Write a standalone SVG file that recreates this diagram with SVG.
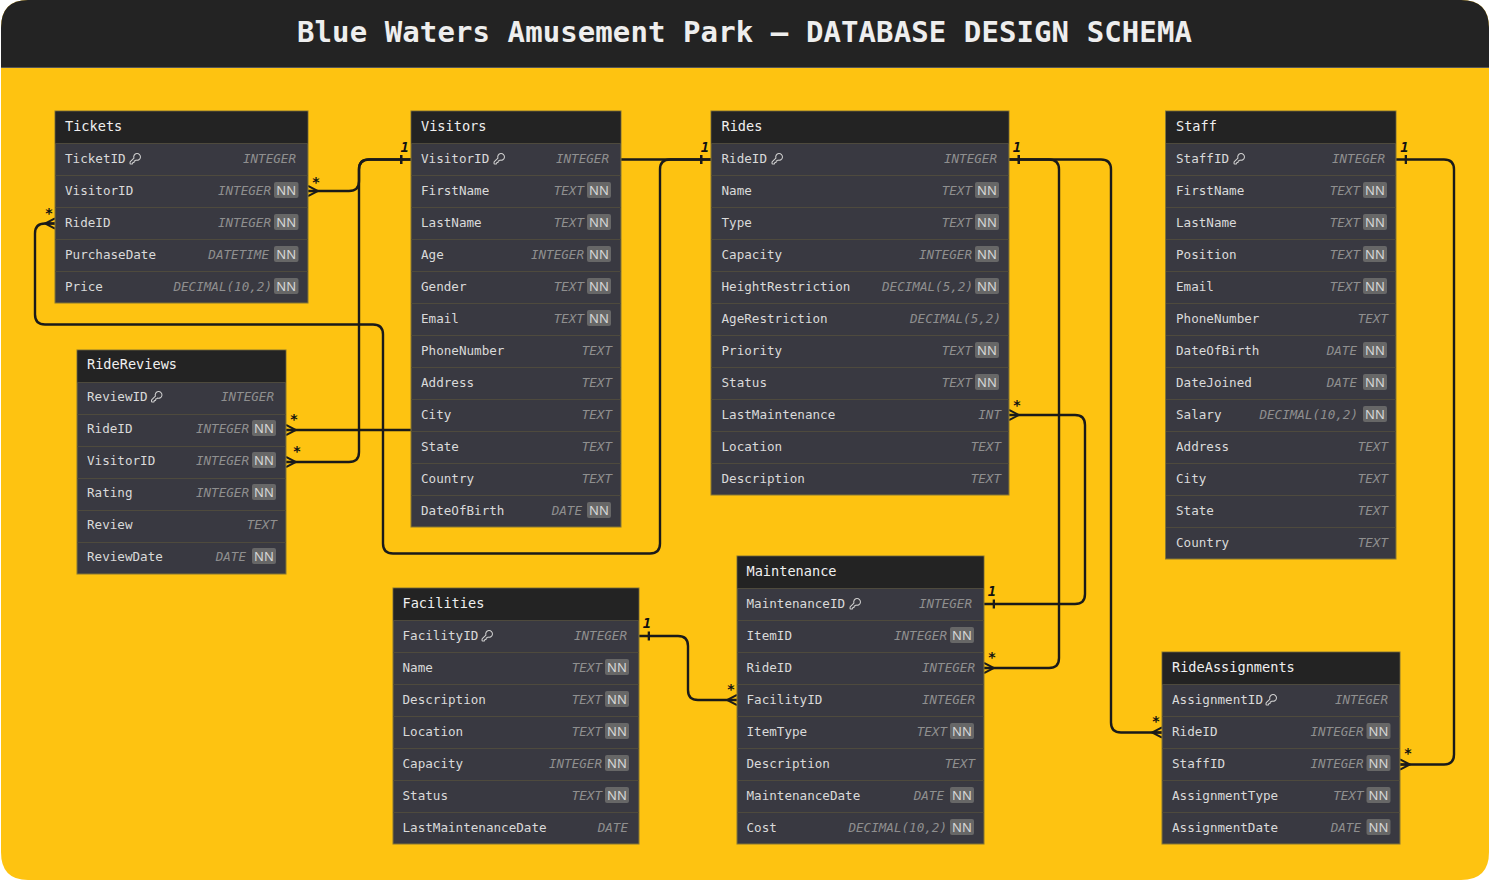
<svg xmlns="http://www.w3.org/2000/svg" width="1489" height="880" viewBox="0 0 1489 880">
<style>
text{font-family:"DejaVu Sans Mono","Liberation Mono",monospace}
.tb{fill:#393941;stroke:#857635;stroke-width:1}
.hd{fill:#232323}
.sp{stroke:#4e4a3d;stroke-width:1;fill:none}
.tt{font-size:13.6px;fill:#f0f0f0}
.n{font-size:12.6px;fill:#dadada}
.t{font-size:12.6px;fill:#8f8f8f;font-style:italic;text-anchor:end;transform:translateX(-1px)}
.bd{fill:#676767}
.nn{font-family:"Noto Sans",sans-serif;font-size:13px;fill:#d6d6d6;text-anchor:middle}
.c{fill:none;stroke:#1a1a1a;stroke-width:2.4}
.l{font-size:14px;font-weight:bold;font-style:italic;fill:#111;text-anchor:middle}
</style>
<defs>
<marker id="crow" markerUnits="userSpaceOnUse" markerWidth="12" markerHeight="14" viewBox="0 -7 12 14" refX="0" refY="0" orient="auto"><path d="M0 -5 L10 0 L0 5 M0 0 H10" fill="none" stroke="#1a1a1a" stroke-width="2"/></marker>
<marker id="tick" markerUnits="userSpaceOnUse" markerWidth="12" markerHeight="12" viewBox="0 -6 12 12" refX="11" refY="0" orient="auto"><path d="M1 -4.500 V4.500" fill="none" stroke="#1a1a1a" stroke-width="2.600"/></marker>
<symbol id="key" viewBox="0 0 24 24"><path d="M2.586 17.414A2 2 0 0 0 2 18.828V21a1 1 0 0 0 1 1h3a1 1 0 0 0 1-1v-1a1 1 0 0 1 1-1h1a1 1 0 0 0 1-1v-1a1 1 0 0 1 1-1h.172a2 2 0 0 0 1.414-.586l.814-.814a6.500 6.500 0 1 0-4-4z" fill="none" stroke="#cfcfcf" stroke-width="2"/></symbol>
</defs>
<path d="M28 0H1461Q1489 0 1489 28V852Q1489 880 1461 880H28Q1 880 1 852V28Q1 0 28 0Z" fill="#fec311"/>
<path d="M28 0H1461Q1489 0 1489 28V67H1V28Q1 0 28 0Z" fill="#232323"/>
<path d="M1 67.500H1489" stroke="#555" stroke-width="1"/>
<text x="744.500" y="42" text-anchor="middle" font-size="29" font-weight="bold" fill="#eeeeee" letter-spacing=".09">Blue Waters Amusement Park – DATABASE DESIGN SCHEMA</text>

<g id="connectors">
<path class="c" marker-start="url(#crow)" marker-end="url(#tick)" d="M308 191H349Q359 191 359 181V169.500Q359 159.500 369 159.500H411"/>
<path class="c" marker-start="url(#crow)" marker-end="url(#tick)" d="M55 223.500H45Q35 223.500 35 233.500V314.500Q35 324.500 45 324.500H373Q383 324.500 383 334.500V543.500Q383 553.500 393 553.500H650Q660 553.500 660 543.500V169.500Q660 159.500 670 159.500H711"/>
<path class="c" marker-start="url(#crow)" marker-end="url(#tick)" d="M286 430H516V159.500H711"/>
<path class="c" marker-start="url(#crow)" marker-end="url(#tick)" d="M286 462H349Q359 462 359 452V169.500Q359 159.500 369 159.500H411"/>
<path class="c" marker-start="url(#crow)" marker-end="url(#tick)" d="M737 700H698Q688 700 688 690V646Q688 636 678 636H639"/>
<path class="c" marker-start="url(#crow)" marker-end="url(#tick)" d="M1009 415H1075Q1085 415 1085 425V594Q1085 604 1075 604H984"/>
<path class="c" marker-start="url(#crow)" marker-end="url(#tick)" d="M984 668H1049Q1059 668 1059 658V169.500Q1059 159.500 1049 159.500H1009"/>
<path class="c" marker-start="url(#crow)" marker-end="url(#tick)" d="M1162 732.500H1121Q1111 732.500 1111 722.500V169.500Q1111 159.500 1101 159.500H1009"/>
<path class="c" marker-start="url(#crow)" marker-end="url(#tick)" d="M1400 764.500H1444Q1454 764.500 1454 754.500V169.500Q1454 159.500 1444 159.500H1396"/>
<text class="l" x="404.700" y="152">1</text>
<text class="l" x="705" y="152">1</text>
<text class="l" x="1017" y="152">1</text>
<text class="l" x="1404.500" y="152">1</text>
<text class="l" x="647" y="628">1</text>
<text class="l" x="992" y="596">1</text>
<text class="l" x="316" y="187">*</text>
<text class="l" x="49" y="218">*</text>
<text class="l" x="294" y="424">*</text>
<text class="l" x="297" y="456">*</text>
<text class="l" x="1017" y="410">*</text>
<text class="l" x="992" y="662">*</text>
<text class="l" x="731" y="694">*</text>
<text class="l" x="1156" y="726">*</text>
<text class="l" x="1408" y="758">*</text>
</g>

<g id="Tickets">
<rect class="tb" x="55" y="111" width="253" height="192"/><rect class="hd" x="55.500" y="111.500" width="252" height="31.500"/>
<path class="sp" d="M55.500 143.500H307.500M55.500 175.500H307.500M55.500 207.500H307.500M55.500 239.500H307.500M55.500 271.500H307.500"/>
<text class="tt" x="65" y="131">Tickets</text>
<text class="n" x="65" y="163">TicketID</text><use href="#key" x="129" y="152.500" width="12.500" height="12.500"/><text class="t" x="297" y="163">INTEGER</text>
<text class="n" x="65" y="195">VisitorID</text><text class="t" x="272" y="195">INTEGER</text><rect class="bd" x="274" y="182" width="24.500" height="16" rx="2"/><text class="nn" x="286.250" y="195">NN</text>
<text class="n" x="65" y="227">RideID</text><text class="t" x="272" y="227">INTEGER</text><rect class="bd" x="274" y="214" width="24.500" height="16" rx="2"/><text class="nn" x="286.250" y="227">NN</text>
<text class="n" x="65" y="259">PurchaseDate</text><text class="t" x="270" y="259">DATETIME</text><rect class="bd" x="274" y="246" width="24.500" height="16" rx="2"/><text class="nn" x="286.250" y="259">NN</text>
<text class="n" x="65" y="291">Price</text><text class="t" x="273" y="291">DECIMAL(10,2)</text><rect class="bd" x="274" y="278" width="24.500" height="16" rx="2"/><text class="nn" x="286.250" y="291">NN</text>
</g>

<g id="Visitors">
<rect class="tb" x="411" y="111" width="210" height="416"/><rect class="hd" x="411.500" y="111.500" width="209" height="31.500"/>
<path class="sp" d="M411.500 143.500H620.500M411.500 175.500H620.500M411.500 207.500H620.500M411.500 239.500H620.500M411.500 271.500H620.500M411.500 303.500H620.500M411.500 335.500H620.500M411.500 367.500H620.500M411.500 399.500H620.500M411.500 431.500H620.500M411.500 463.500H620.500M411.500 495.500H620.500"/>
<text class="tt" x="421" y="131">Visitors</text>
<text class="n" x="421" y="163">VisitorID</text><use href="#key" x="493" y="152.500" width="12.500" height="12.500"/><text class="t" x="610" y="163">INTEGER</text>
<text class="n" x="421" y="195">FirstName</text><text class="t" x="585" y="195">TEXT</text><rect class="bd" x="587" y="182" width="24" height="16" rx="2"/><text class="nn" x="599" y="195">NN</text>
<text class="n" x="421" y="227">LastName</text><text class="t" x="585" y="227">TEXT</text><rect class="bd" x="587" y="214" width="24" height="16" rx="2"/><text class="nn" x="599" y="227">NN</text>
<text class="n" x="421" y="259">Age</text><text class="t" x="585" y="259">INTEGER</text><rect class="bd" x="587" y="246" width="24" height="16" rx="2"/><text class="nn" x="599" y="259">NN</text>
<text class="n" x="421" y="291">Gender</text><text class="t" x="585" y="291">TEXT</text><rect class="bd" x="587" y="278" width="24" height="16" rx="2"/><text class="nn" x="599" y="291">NN</text>
<text class="n" x="421" y="323">Email</text><text class="t" x="585" y="323">TEXT</text><rect class="bd" x="587" y="310" width="24" height="16" rx="2"/><text class="nn" x="599" y="323">NN</text>
<text class="n" x="421" y="355">PhoneNumber</text><text class="t" x="613" y="355">TEXT</text>
<text class="n" x="421" y="387">Address</text><text class="t" x="613" y="387">TEXT</text>
<text class="n" x="421" y="419">City</text><text class="t" x="613" y="419">TEXT</text>
<text class="n" x="421" y="451">State</text><text class="t" x="613" y="451">TEXT</text>
<text class="n" x="421" y="483">Country</text><text class="t" x="613" y="483">TEXT</text>
<text class="n" x="421" y="515">DateOfBirth</text><text class="t" x="583" y="515">DATE</text><rect class="bd" x="587" y="502" width="24" height="16" rx="2"/><text class="nn" x="599" y="515">NN</text>
</g>

<g id="Rides">
<rect class="tb" x="711" y="111" width="298" height="384"/><rect class="hd" x="711.500" y="111.500" width="297" height="31.500"/>
<path class="sp" d="M711.500 143.500H1008.500M711.500 175.500H1008.500M711.500 207.500H1008.500M711.500 239.500H1008.500M711.500 271.500H1008.500M711.500 303.500H1008.500M711.500 335.500H1008.500M711.500 367.500H1008.500M711.500 399.500H1008.500M711.500 431.500H1008.500M711.500 463.500H1008.500"/>
<text class="tt" x="721.500" y="131">Rides</text>
<text class="n" x="721.500" y="163">RideID</text><use href="#key" x="771" y="152.500" width="12.500" height="12.500"/><text class="t" x="998" y="163">INTEGER</text>
<text class="n" x="721.500" y="195">Name</text><text class="t" x="973" y="195">TEXT</text><rect class="bd" x="975" y="182" width="24" height="16" rx="2"/><text class="nn" x="987" y="195">NN</text>
<text class="n" x="721.500" y="227">Type</text><text class="t" x="973" y="227">TEXT</text><rect class="bd" x="975" y="214" width="24" height="16" rx="2"/><text class="nn" x="987" y="227">NN</text>
<text class="n" x="721.500" y="259">Capacity</text><text class="t" x="973" y="259">INTEGER</text><rect class="bd" x="975" y="246" width="24" height="16" rx="2"/><text class="nn" x="987" y="259">NN</text>
<text class="n" x="721.500" y="291">HeightRestriction</text><text class="t" x="974" y="291">DECIMAL(5,2)</text><rect class="bd" x="975" y="278" width="24" height="16" rx="2"/><text class="nn" x="987" y="291">NN</text>
<text class="n" x="721.500" y="323">AgeRestriction</text><text class="t" x="1002" y="323">DECIMAL(5,2)</text>
<text class="n" x="721.500" y="355">Priority</text><text class="t" x="973" y="355">TEXT</text><rect class="bd" x="975" y="342" width="24" height="16" rx="2"/><text class="nn" x="987" y="355">NN</text>
<text class="n" x="721.500" y="387">Status</text><text class="t" x="973" y="387">TEXT</text><rect class="bd" x="975" y="374" width="24" height="16" rx="2"/><text class="nn" x="987" y="387">NN</text>
<text class="n" x="721.500" y="419">LastMaintenance</text><text class="t" x="1002" y="419">INT</text>
<text class="n" x="721.500" y="451">Location</text><text class="t" x="1002" y="451">TEXT</text>
<text class="n" x="721.500" y="483">Description</text><text class="t" x="1002" y="483">TEXT</text>
</g>

<g id="Staff">
<rect class="tb" x="1165.500" y="111" width="230.500" height="448"/><rect class="hd" x="1166" y="111.500" width="229.500" height="31.500"/>
<path class="sp" d="M1166 143.500H1395.500M1166 175.500H1395.500M1166 207.500H1395.500M1166 239.500H1395.500M1166 271.500H1395.500M1166 303.500H1395.500M1166 335.500H1395.500M1166 367.500H1395.500M1166 399.500H1395.500M1166 431.500H1395.500M1166 463.500H1395.500M1166 495.500H1395.500M1166 527.500H1395.500"/>
<text class="tt" x="1176" y="131">Staff</text>
<text class="n" x="1176" y="163">StaffID</text><use href="#key" x="1233" y="152.500" width="12.500" height="12.500"/><text class="t" x="1386" y="163">INTEGER</text>
<text class="n" x="1176" y="195">FirstName</text><text class="t" x="1361" y="195">TEXT</text><rect class="bd" x="1363" y="182" width="24" height="16" rx="2"/><text class="nn" x="1375" y="195">NN</text>
<text class="n" x="1176" y="227">LastName</text><text class="t" x="1361" y="227">TEXT</text><rect class="bd" x="1363" y="214" width="24" height="16" rx="2"/><text class="nn" x="1375" y="227">NN</text>
<text class="n" x="1176" y="259">Position</text><text class="t" x="1361" y="259">TEXT</text><rect class="bd" x="1363" y="246" width="24" height="16" rx="2"/><text class="nn" x="1375" y="259">NN</text>
<text class="n" x="1176" y="291">Email</text><text class="t" x="1361" y="291">TEXT</text><rect class="bd" x="1363" y="278" width="24" height="16" rx="2"/><text class="nn" x="1375" y="291">NN</text>
<text class="n" x="1176" y="323">PhoneNumber</text><text class="t" x="1389" y="323">TEXT</text>
<text class="n" x="1176" y="355">DateOfBirth</text><text class="t" x="1358" y="355">DATE</text><rect class="bd" x="1363" y="342" width="24" height="16" rx="2"/><text class="nn" x="1375" y="355">NN</text>
<text class="n" x="1176" y="387">DateJoined</text><text class="t" x="1358" y="387">DATE</text><rect class="bd" x="1363" y="374" width="24" height="16" rx="2"/><text class="nn" x="1375" y="387">NN</text>
<text class="n" x="1176" y="419">Salary</text><text class="t" x="1359" y="419">DECIMAL(10,2)</text><rect class="bd" x="1363" y="406" width="24" height="16" rx="2"/><text class="nn" x="1375" y="419">NN</text>
<text class="n" x="1176" y="451">Address</text><text class="t" x="1389" y="451">TEXT</text>
<text class="n" x="1176" y="483">City</text><text class="t" x="1389" y="483">TEXT</text>
<text class="n" x="1176" y="515">State</text><text class="t" x="1389" y="515">TEXT</text>
<text class="n" x="1176" y="547">Country</text><text class="t" x="1389" y="547">TEXT</text>
</g>

<g id="RideReviews">
<rect class="tb" x="77" y="350" width="209" height="224"/><rect class="hd" x="77.500" y="350.500" width="208" height="31.500"/>
<path class="sp" d="M77.500 382.500H285.500M77.500 414.500H285.500M77.500 446.500H285.500M77.500 478.500H285.500M77.500 510.500H285.500M77.500 542.500H285.500"/>
<text class="tt" x="87" y="369">RideReviews</text>
<text class="n" x="87" y="401">ReviewID</text><use href="#key" x="150.500" y="390.500" width="12.500" height="12.500"/><text class="t" x="275" y="401">INTEGER</text>
<text class="n" x="87" y="433">RideID</text><text class="t" x="250" y="433">INTEGER</text><rect class="bd" x="252" y="420" width="24" height="16" rx="2"/><text class="nn" x="264" y="433">NN</text>
<text class="n" x="87" y="465">VisitorID</text><text class="t" x="250" y="465">INTEGER</text><rect class="bd" x="252" y="452" width="24" height="16" rx="2"/><text class="nn" x="264" y="465">NN</text>
<text class="n" x="87" y="497">Rating</text><text class="t" x="250" y="497">INTEGER</text><rect class="bd" x="252" y="484" width="24" height="16" rx="2"/><text class="nn" x="264" y="497">NN</text>
<text class="n" x="87" y="529">Review</text><text class="t" x="278" y="529">TEXT</text>
<text class="n" x="87" y="561">ReviewDate</text><text class="t" x="247" y="561">DATE</text><rect class="bd" x="252" y="548" width="24" height="16" rx="2"/><text class="nn" x="264" y="561">NN</text>
</g>

<g id="Facilities">
<rect class="tb" x="393" y="588" width="246" height="256"/><rect class="hd" x="393.500" y="588.500" width="245" height="31.500"/>
<path class="sp" d="M393.500 620.500H638.500M393.500 652.500H638.500M393.500 684.500H638.500M393.500 716.500H638.500M393.500 748.500H638.500M393.500 780.500H638.500M393.500 812.500H638.500"/>
<text class="tt" x="402.500" y="608">Facilities</text>
<text class="n" x="402.500" y="640">FacilityID</text><use href="#key" x="481" y="629.500" width="12.500" height="12.500"/><text class="t" x="628" y="640">INTEGER</text>
<text class="n" x="402.500" y="672">Name</text><text class="t" x="603" y="672">TEXT</text><rect class="bd" x="605" y="659" width="24" height="16" rx="2"/><text class="nn" x="617" y="672">NN</text>
<text class="n" x="402.500" y="704">Description</text><text class="t" x="603" y="704">TEXT</text><rect class="bd" x="605" y="691" width="24" height="16" rx="2"/><text class="nn" x="617" y="704">NN</text>
<text class="n" x="402.500" y="736">Location</text><text class="t" x="603" y="736">TEXT</text><rect class="bd" x="605" y="723" width="24" height="16" rx="2"/><text class="nn" x="617" y="736">NN</text>
<text class="n" x="402.500" y="768">Capacity</text><text class="t" x="603" y="768">INTEGER</text><rect class="bd" x="605" y="755" width="24" height="16" rx="2"/><text class="nn" x="617" y="768">NN</text>
<text class="n" x="402.500" y="800">Status</text><text class="t" x="603" y="800">TEXT</text><rect class="bd" x="605" y="787" width="24" height="16" rx="2"/><text class="nn" x="617" y="800">NN</text>
<text class="n" x="402.500" y="832">LastMaintenanceDate</text><text class="t" x="629" y="832">DATE</text>
</g>

<g id="Maintenance">
<rect class="tb" x="737" y="556" width="247" height="288"/><rect class="hd" x="737.500" y="556.500" width="246" height="31.500"/>
<path class="sp" d="M737.500 588.500H983.500M737.500 620.500H983.500M737.500 652.500H983.500M737.500 684.500H983.500M737.500 716.500H983.500M737.500 748.500H983.500M737.500 780.500H983.500M737.500 812.500H983.500"/>
<text class="tt" x="746.500" y="576">Maintenance</text>
<text class="n" x="746.500" y="608">MaintenanceID</text><use href="#key" x="849" y="597.500" width="12.500" height="12.500"/><text class="t" x="973" y="608">INTEGER</text>
<text class="n" x="746.500" y="640">ItemID</text><text class="t" x="948" y="640">INTEGER</text><rect class="bd" x="950" y="627" width="24" height="16" rx="2"/><text class="nn" x="962" y="640">NN</text>
<text class="n" x="746.500" y="672">RideID</text><text class="t" x="976" y="672">INTEGER</text>
<text class="n" x="746.500" y="704">FacilityID</text><text class="t" x="976" y="704">INTEGER</text>
<text class="n" x="746.500" y="736">ItemType</text><text class="t" x="948" y="736">TEXT</text><rect class="bd" x="950" y="723" width="24" height="16" rx="2"/><text class="nn" x="962" y="736">NN</text>
<text class="n" x="746.500" y="768">Description</text><text class="t" x="976" y="768">TEXT</text>
<text class="n" x="746.500" y="800">MaintenanceDate</text><text class="t" x="945" y="800">DATE</text><rect class="bd" x="950" y="787" width="24" height="16" rx="2"/><text class="nn" x="962" y="800">NN</text>
<text class="n" x="746.500" y="832">Cost</text><text class="t" x="948" y="832">DECIMAL(10,2)</text><rect class="bd" x="950" y="819" width="24" height="16" rx="2"/><text class="nn" x="962" y="832">NN</text>
</g>

<g id="RideAssignments">
<rect class="tb" x="1162" y="652" width="238" height="192"/><rect class="hd" x="1162.500" y="652.500" width="237" height="31.500"/>
<path class="sp" d="M1162.500 684.500H1399.500M1162.500 716.500H1399.500M1162.500 748.500H1399.500M1162.500 780.500H1399.500M1162.500 812.500H1399.500"/>
<text class="tt" x="1172" y="672">RideAssignments</text>
<text class="n" x="1172" y="704">AssignmentID</text><use href="#key" x="1265" y="693.500" width="12.500" height="12.500"/><text class="t" x="1389" y="704">INTEGER</text>
<text class="n" x="1172" y="736">RideID</text><text class="t" x="1364.500" y="736">INTEGER</text><rect class="bd" x="1366.500" y="723" width="24" height="16" rx="2"/><text class="nn" x="1378.500" y="736">NN</text>
<text class="n" x="1172" y="768">StaffID</text><text class="t" x="1364.500" y="768">INTEGER</text><rect class="bd" x="1366.500" y="755" width="24" height="16" rx="2"/><text class="nn" x="1378.500" y="768">NN</text>
<text class="n" x="1172" y="800">AssignmentType</text><text class="t" x="1364.500" y="800">TEXT</text><rect class="bd" x="1366.500" y="787" width="24" height="16" rx="2"/><text class="nn" x="1378.500" y="800">NN</text>
<text class="n" x="1172" y="832">AssignmentDate</text><text class="t" x="1362" y="832">DATE</text><rect class="bd" x="1366.500" y="819" width="24" height="16" rx="2"/><text class="nn" x="1378.500" y="832">NN</text>
</g>
</svg>
